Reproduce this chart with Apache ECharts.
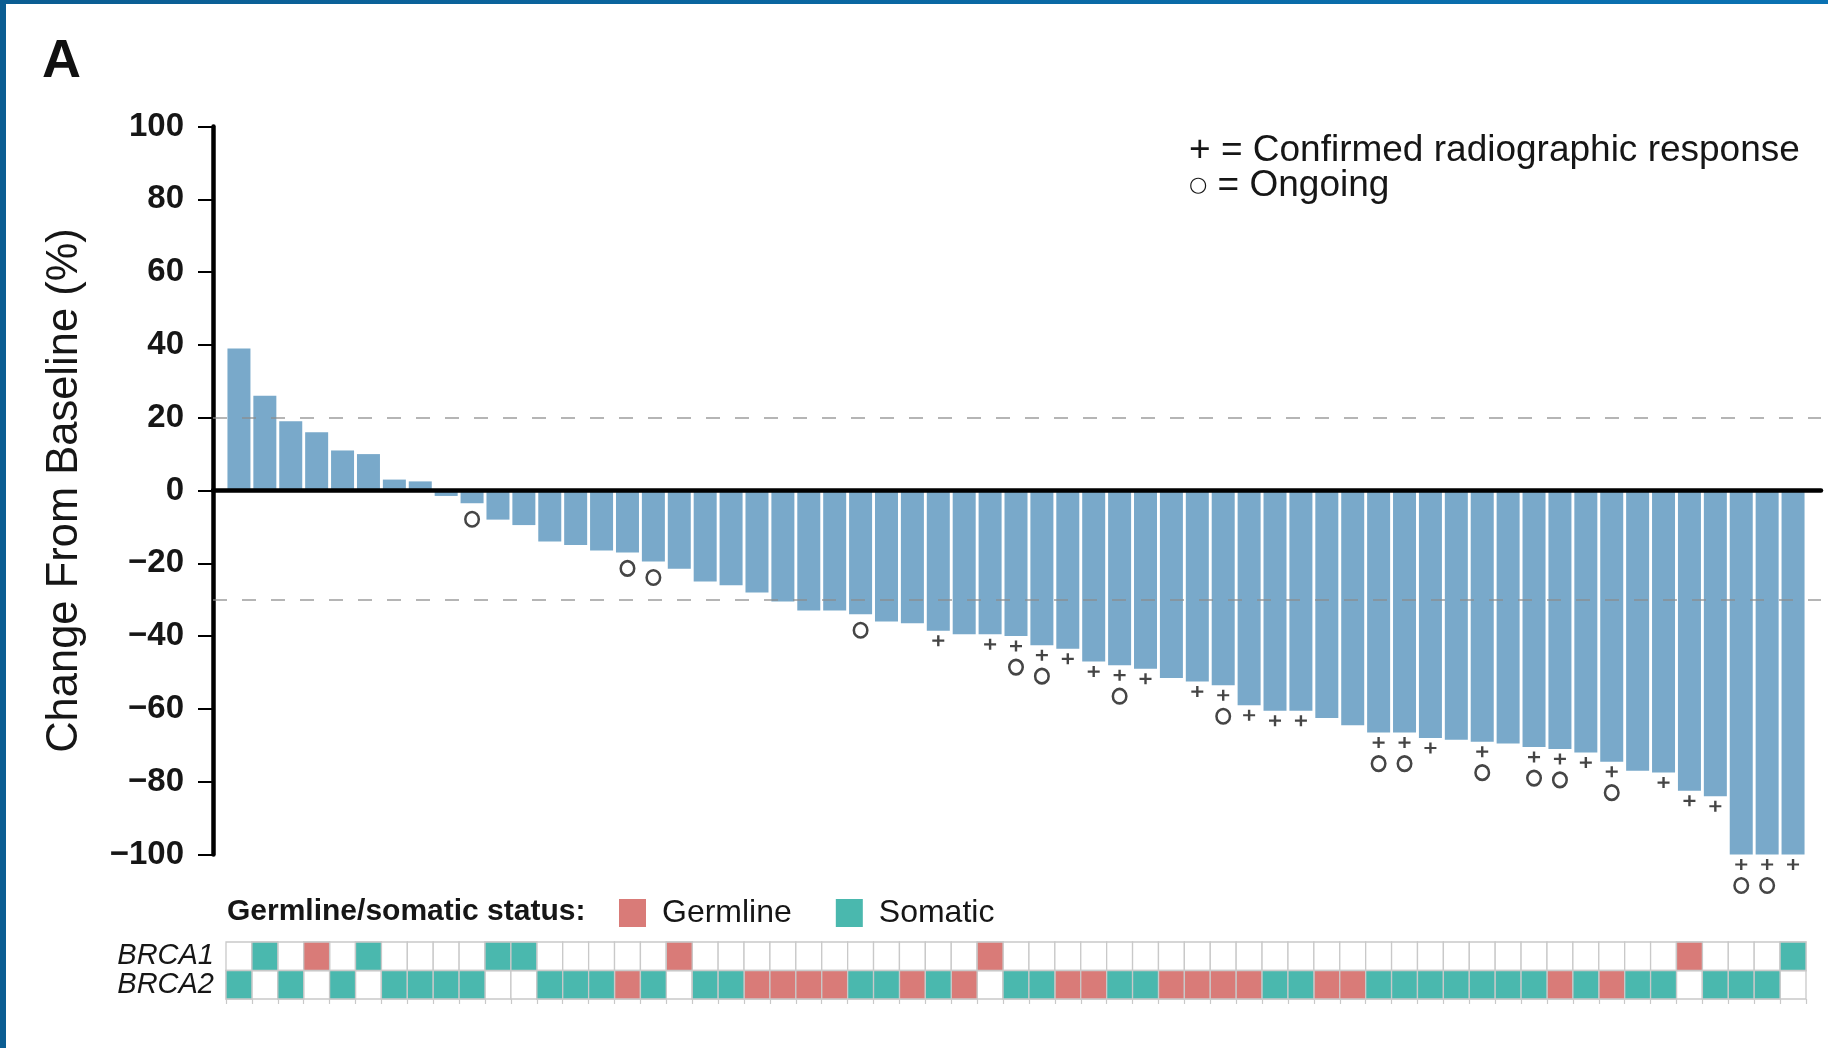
<!DOCTYPE html>
<html>
<head>
<meta charset="utf-8">
<title>Best change from baseline</title>
<script src="https://cdn.jsdelivr.net/npm/echarts@6/dist/echarts.min.js"></script>
<style>
  html, body { margin: 0; padding: 0; background: #ffffff; }
  #chart { width: 1828px; height: 1048px; }
</style>
</head>
<body>
<div id="chart"></div>
<script>
// ---- data ----------------------------------------------------------------
// Best % change from baseline per patient, sorted from largest increase to largest decrease
const changeFromBaseline = [
  39, 26, 19, 16, 11, 10, 3, 2.5, -1.5, -3.5,
  -8, -9.5, -14, -15, -16.5, -17, -19.5, -21.5, -25, -26,
  -28, -30.5, -33, -33, -34, -36, -36.5, -38.5, -39.5, -39.5,
  -40, -42.5, -43.5, -47, -48, -49, -51.5, -52.5, -53.5, -59,
  -60.5, -60.5, -62.5, -64.5, -66.5, -66.5, -68, -68.5, -69, -69.5,
  -70.5, -71, -72, -74.5, -77, -77.5, -82.5, -84, -100, -100,
  -100
];

// Patient positions (1-based) with a confirmed radiographic response
const confirmedResponse = [28, 30, 31, 32, 33, 34, 35, 36, 38, 39, 40, 41, 42,
  45, 46, 47, 49, 51, 52, 53, 54, 56, 57, 58, 59, 60, 61];

// Patient positions (1-based) still on treatment
const ongoing = [10, 16, 17, 25, 31, 32, 35, 39, 45, 46, 49, 51, 52, 54, 59, 60];

// Alteration origin per patient: 'G' = germline, 'S' = somatic, '' = none
const brca1Status = [
  '', 'S', '', 'G', '', 'S', '', '', '', '',
  'S', 'S', '', '', '', '', '', 'G', '', '',
  '', '', '', '', '', '', '', '', '', 'G',
  '', '', '', '', '', '', '', '', '', '',
  '', '', '', '', '', '', '', '', '', '',
  '', '', '', '', '', '', 'G', '', '', '',
  'S'
];
const brca2Status = [
  'S', '', 'S', '', 'S', '', 'S', 'S', 'S', 'S',
  '', '', 'S', 'S', 'S', 'G', 'S', '', 'S', 'S',
  'G', 'G', 'G', 'G', 'S', 'S', 'G', 'S', 'G', '',
  'S', 'S', 'G', 'G', 'S', 'S', 'G', 'G', 'G', 'G',
  'S', 'S', 'G', 'G', 'S', 'S', 'S', 'S', 'S', 'S',
  'S', 'G', 'S', 'G', 'S', 'S', '', 'S', 'S', 'S',
  ''
];

const geneRows = ['BRCA2', 'BRCA1'];          // bottom-to-top order of the status strip
const statusNames = { G: 'Germline', S: 'Somatic' };
const yRange = { min: -100, max: 100, step: 20 };
const responseThresholds = [20, -30];

// ---- styling -------------------------------------------------------------
const FONT = '"Liberation Sans", Arial, Helvetica, sans-serif';
const BAR_COLOR = '#79a9ca';
const GERMLINE_COLOR = '#d97b78';
const SOMATIC_COLOR = '#4ab8ae';
const CELL_STROKE = '#c9c9c9';
const INK = '#161616';

const patients = changeFromBaseline.map((_, i) => String(i + 1));

// ---- derived series data -------------------------------------------------
const responseData = confirmedResponse.map(p => [p - 1, changeFromBaseline[p - 1]]);
const ongoingData = ongoing.map(p => ({
  value: [p - 1, changeFromBaseline[p - 1]],
  // sit below the "+" when the patient also has a confirmed response
  symbolOffset: [0, confirmedResponse.includes(p) ? 31 : 16]
}));

function statusCells(code) {
  const cells = [];
  [brca2Status, brca1Status].forEach((row, r) => {
    row.forEach((s, c) => { if (s === code) cells.push([c, r]); });
  });
  return cells;
}
const allCells = [];
geneRows.forEach((_, r) => patients.forEach((_, c) => allCells.push([c, r])));

function renderCell(params, api) {
  const p = api.coord([api.value(0), api.value(1)]);
  const s = api.size([1, 1]);
  return {
    type: 'rect',
    shape: { x: p[0] - s[0] / 2, y: p[1] - s[1] / 2, width: s[0], height: s[1] },
    style: { fill: api.visual('color'), stroke: CELL_STROKE, lineWidth: 1.3 }
  };
}

const PLUS = 'path://M4,0H6V10H4Z M0,4H10V6H0Z';

// ---- chart ---------------------------------------------------------------
const chart = echarts.init(document.getElementById('chart'), null, { renderer: 'canvas' });

const option = {
  animation: false,
  backgroundColor: '#ffffff',
  textStyle: { fontFamily: FONT },
  grid: [
    { left: 213, right: 7, top: 126.5, height: 728 },   // axis frame + reference lines
    { left: 226, right: 22, top: 126.5, height: 728 },  // bars
    { left: 226, right: 22, top: 942, height: 57 }      // BRCA status strip
  ],
  xAxis: [
    {
      gridIndex: 0, type: 'value', min: 0, max: 1, z: 10,
      axisLine: { show: true, onZero: true, lineStyle: { color: '#000', width: 4.5 } },
      axisTick: { show: false }, axisLabel: { show: false }, splitLine: { show: false }
    },
    { gridIndex: 1, type: 'category', data: patients, show: false },
    {
      gridIndex: 2, type: 'category', data: patients, position: 'bottom',
      axisLine: { show: false },
      axisTick: { show: true, interval: 0, length: 5, lineStyle: { color: CELL_STROKE, width: 1.2 } },
      axisLabel: { show: false }, splitLine: { show: false }
    }
  ],
  yAxis: [
    {
      gridIndex: 0, type: 'value', min: yRange.min, max: yRange.max, interval: yRange.step,
      name: 'Change From Baseline (%)', nameLocation: 'middle', nameGap: 126,
      nameTextStyle: { fontSize: 43.5, color: INK, fontFamily: FONT },
      axisLine: { show: true, onZero: false, lineStyle: { color: '#000', width: 4.5 } },
      axisTick: { show: true, length: 15, lineStyle: { color: '#000', width: 2 } },
      axisLabel: {
        margin: 29, fontSize: 33, fontWeight: 'bold', color: INK, fontFamily: FONT,
        formatter: v => String(v).replace('-', '\u2212')
      },
      splitLine: { show: false }
    },
    { gridIndex: 1, type: 'value', min: yRange.min, max: yRange.max, show: false },
    {
      gridIndex: 2, type: 'category', data: geneRows,
      axisLine: { show: false }, axisTick: { show: false }, splitLine: { show: false },
      axisLabel: { interval: 0, margin: 12, fontSize: 29, fontStyle: 'italic', color: INK, fontFamily: FONT }
    }
  ],
  legend: {
    data: [statusNames.G, statusNames.S],
    left: 614, top: 892,
    icon: 'rect', itemWidth: 27, itemHeight: 28, itemGap: 44,
    selectedMode: false,
    textStyle: { fontSize: 32, color: INK, fontFamily: FONT, padding: [0, 0, 0, 11] }
  },
  series: [
    {
      // reference lines for progression (+20%) and partial response (-30%)
      type: 'line', xAxisIndex: 0, yAxisIndex: 0, data: [], z: 5,
      markLine: {
        silent: true, symbol: ['none', 'none'],
        label: { show: false },
        lineStyle: { type: [14, 15], color: 'rgba(140,140,140,0.85)', width: 1.6 },
        data: responseThresholds.map(v => ({ yAxis: v }))
      }
    },
    {
      name: 'Change from baseline', type: 'bar', xAxisIndex: 1, yAxisIndex: 1,
      data: changeFromBaseline, barWidth: 23, z: 2,
      itemStyle: { color: BAR_COLOR }
    },
    {
      name: 'Confirmed radiographic response', type: 'scatter', xAxisIndex: 1, yAxisIndex: 1,
      data: responseData, symbol: PLUS, symbolSize: [12, 11], symbolOffset: [0, 10], z: 4,
      itemStyle: { color: INK }
    },
    {
      name: 'Ongoing', type: 'scatter', xAxisIndex: 1, yAxisIndex: 1,
      data: ongoingData, symbol: 'circle', symbolSize: [13.5, 14.5], z: 4,
      itemStyle: { color: '#ffffff', borderColor: INK, borderWidth: 2.6 }
    },
    {
      name: 'No alteration', type: 'custom', xAxisIndex: 2, yAxisIndex: 2,
      data: allCells, renderItem: renderCell, itemStyle: { color: '#ffffff' }, z: 1
    },
    {
      name: statusNames.G, type: 'custom', xAxisIndex: 2, yAxisIndex: 2,
      data: statusCells('G'), renderItem: renderCell, itemStyle: { color: GERMLINE_COLOR }, z: 2
    },
    {
      name: statusNames.S, type: 'custom', xAxisIndex: 2, yAxisIndex: 2,
      data: statusCells('S'), renderItem: renderCell, itemStyle: { color: SOMATIC_COLOR }, z: 2
    }
  ],
  graphic: [
    // figure frame
    { type: 'rect', x: 0, y: 0, shape: { width: 6, height: 1048 }, style: { fill: '#0b5d92' }, z: 100 },
    {
      type: 'rect', x: 0, y: 0, shape: { width: 1828, height: 4 }, z: 100,
      style: {
        fill: new echarts.graphic.LinearGradient(0, 0, 1, 0, [
          { offset: 0, color: '#0b5d92' }, { offset: 1, color: '#0a72b3' }
        ])
      }
    },
    // panel letter
    {
      type: 'text', x: 42, y: 62,
      style: { text: 'A', font: 'bold 54px ' + FONT, fill: '#111',
               textAlign: 'left', textVerticalAlign: 'middle', align: 'left', verticalAlign: 'middle' }
    },
    // marker key
    {
      type: 'text', x: 1189, y: 151,
      style: { text: '+ = Confirmed radiographic response', font: '37px ' + FONT, fill: INK,
               textAlign: 'left', textVerticalAlign: 'middle', align: 'left', verticalAlign: 'middle' }
    },
    {
      type: 'text', x: 1189, y: 186,
      style: {
        text: '{c|\u25CB} = Ongoing', font: '37px ' + FONT, fill: INK,
        rich: { c: { fontSize: 21, fontFamily: '"DejaVu Sans", sans-serif', fill: INK } },
        textAlign: 'left', textVerticalAlign: 'middle', align: 'left', verticalAlign: 'middle'
      }
    },
    // status strip heading
    {
      type: 'text', x: 227, y: 912,
      style: { text: 'Germline/somatic status:', font: 'bold 30px ' + FONT, fill: INK,
               textAlign: 'left', textVerticalAlign: 'middle', align: 'left', verticalAlign: 'middle' }
    }
  ]
};

chart.setOption(option);
</script>
</body>
</html>
